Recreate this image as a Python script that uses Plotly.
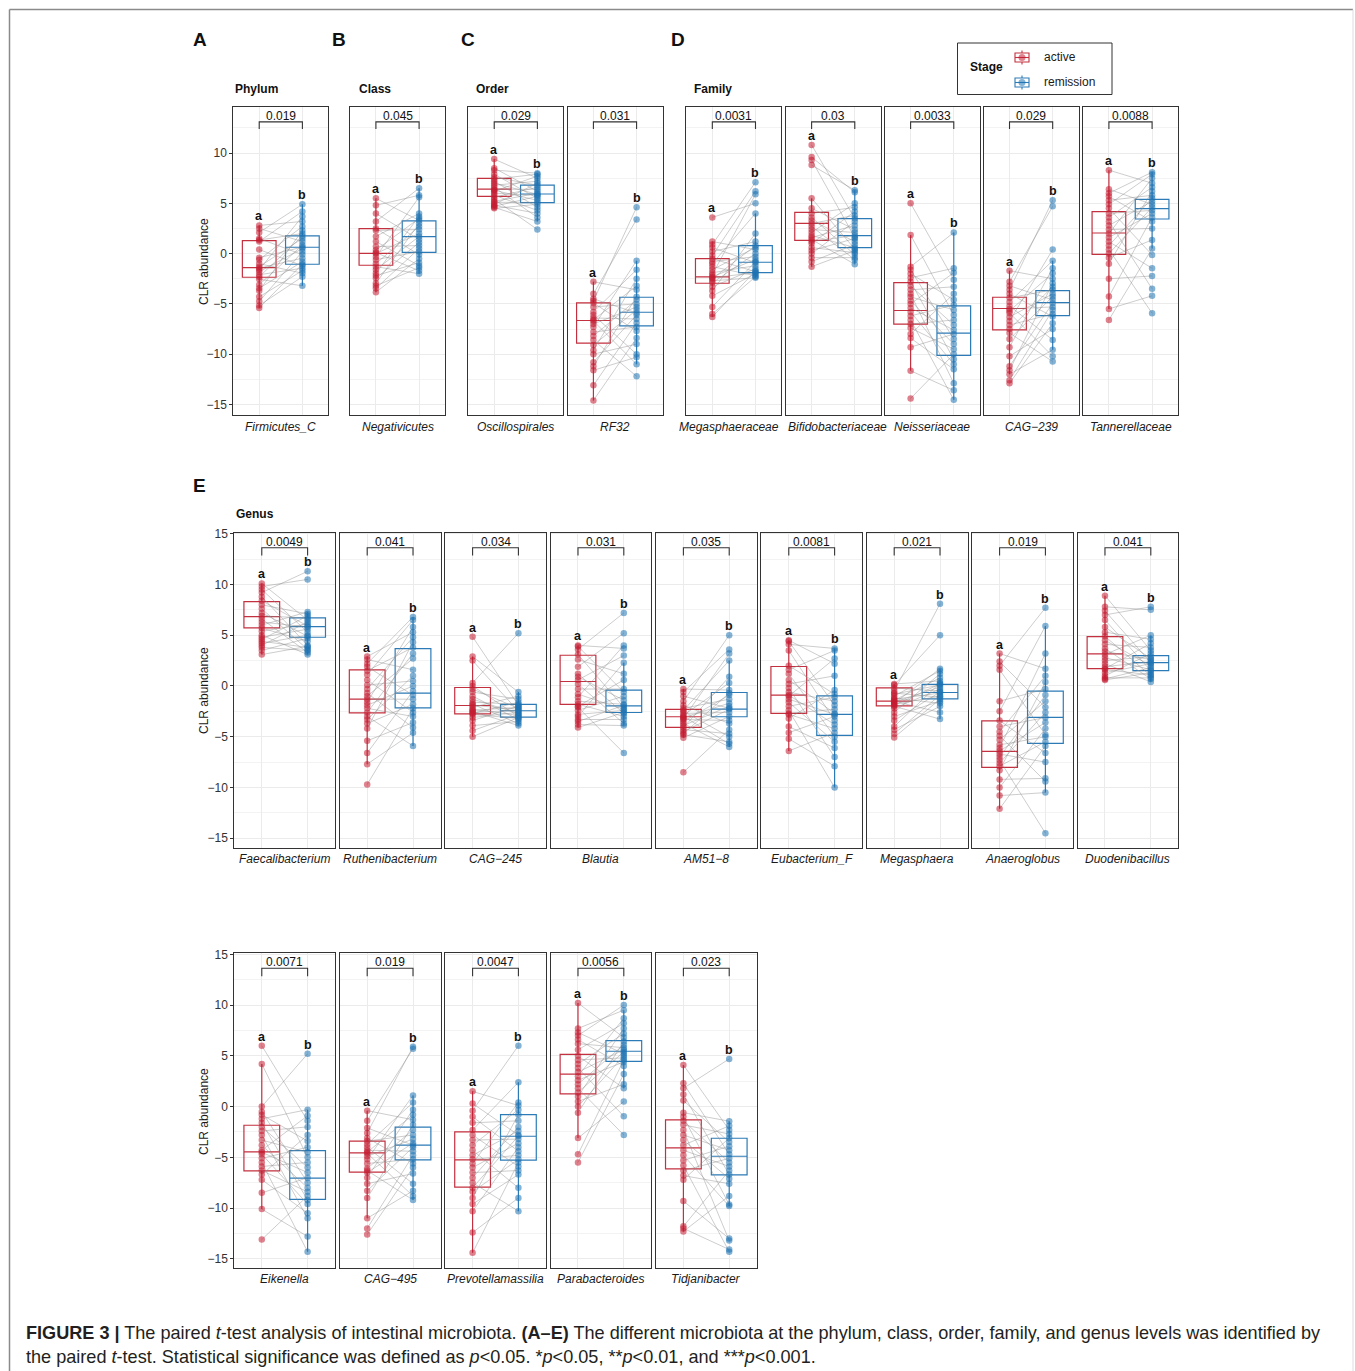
import plotly.graph_objects as go

W, H = 1355, 1371
FONT = "Liberation Sans, Arial, Helvetica, sans-serif"
ACTIVE_LINE = "#C3303F"
REMISSION_LINE = "#2C7BB6"
ACTIVE_PT = "rgba(196,28,50,0.55)"
REMISSION_PT = "rgba(30,115,178,0.55)"

# ---------------- data (CLR abundance) ----------------
taxa = ["Firmicutes_C", "Negativicutes", "Oscillospirales", "RF32",
        "Megasphaeraceae", "Bifidobacteriaceae", "Neisseriaceae", "CAG\u2212239", "Tannerellaceae",
        "Faecalibacterium", "Ruthenibacterium", "CAG\u2212245", "Blautia", "AM51\u22128",
        "Eubacterium_F", "Megasphaera", "Anaeroglobus", "Duodenibacillus",
        "Eikenella", "CAG\u2212495", "Prevotellamassilia", "Parabacteroides", "Tidjanibacter"]

p_values = ["0.019", "0.045", "0.029", "0.031", "0.0031", "0.03", "0.0033", "0.029", "0.0088",
            "0.0049", "0.041", "0.034", "0.031", "0.035", "0.0081", "0.021", "0.019", "0.041",
            "0.0071", "0.019", "0.0047", "0.0056", "0.023"]

firmicutes_c_active = [2.8, 2.5, 2.1, 1.5, 1.35, 1.2, 0.4, -0.4, -0.6, -1.0, -1.3, -1.45, -1.6, -1.8, -2.1, -2.3, -2.55, -3.1, -3.45, -3.7, -4.3, -4.75, -5.15, -5.4]
firmicutes_c_remission = [4.9, 4.2, 3.7, 3.2, 2.7, 2.3, 2.0, 1.75, 1.5, 1.2, 0.85, 0.65, 0.5, 0.2, -0.1, -0.45, -0.8, -1.05, -1.2, -1.45, -1.7, -1.95, -2.3, -3.2]
negativicutes_active = [5.5, 4.8, 4.0, 3.2, 2.5, 2.3, 1.7, 1.2, 0.7, 0.35, 0.1, 0.0, -0.3, -0.6, -1.0, -1.3, -1.6, -1.95, -2.2, -2.45, -2.95, -3.2, -3.45, -3.84]
negativicutes_remission = [6.5, 5.8, 5.6, 4.0, 3.7, 3.5, 3.3, 3.0, 2.7, 2.4, 2.0, 1.7, 1.4, 1.1, 0.8, 0.5, 0.2, -0.1, -0.5, -0.9, -1.2, -1.4, -1.7, -2.0]
oscillospirales_active = [9.4, 8.5, 8.3, 7.9, 7.6, 7.4, 7.2, 7.0, 6.8, 6.6, 6.4, 6.3, 6.2, 6.0, 5.8, 5.6, 5.4, 5.2, 5.1, 4.9, 4.8, 4.7, 4.6, 4.5]
oscillospirales_remission = [8.0, 7.9, 7.7, 7.5, 7.2, 7.0, 6.8, 6.6, 6.4, 6.2, 6.0, 5.9, 5.8, 5.7, 5.5, 5.3, 5.1, 4.9, 4.6, 4.3, 4.0, 3.6, 3.2, 2.4]
rf32_active = [-2.8, -4.0, -4.5, -4.7, -4.9, -5.3, -5.8, -6.1, -6.4, -6.6, -6.7, -7.0, -7.3, -7.8, -8.2, -8.6, -9.1, -9.6, -10.0, -10.8, -11.2, -11.6, -13.1, -14.6]
rf32_remission = [4.6, 3.4, -0.7, -1.6, -2.5, -3.2, -3.6, -4.3, -4.6, -5.0, -5.3, -5.6, -5.9, -6.1, -6.5, -6.9, -7.3, -7.7, -8.4, -9.0, -10.0, -10.3, -11.0, -12.2]
megasphaeraceae_active = [3.6, 1.2, 0.9, 0.6, 0.2, -0.2, -0.5, -0.8, -1.0, -1.3, -1.6, -1.9, -2.1, -2.3, -2.4, -2.5, -2.7, -2.9, -3.3, -3.7, -4.2, -5.3, -6.0, -6.3]
megasphaeraceae_remission = [7.1, 6.2, 5.9, 5.0, 4.0, 2.0, 1.2, 0.8, 0.6, 0.4, 0.0, -0.3, -0.6, -0.8, -0.9, -1.2, -1.5, -1.7, -1.8, -1.9, -2.0, -2.2, -2.3, -2.4]
bifidobacteriaceae_active = [10.8, 9.6, 9.3, 8.8, 5.5, 4.5, 4.0, 3.6, 3.3, 3.0, 2.7, 2.4, 2.1, 1.8, 1.6, 1.4, 1.2, 1.0, 0.6, 0.3, 0.0, -0.4, -0.8, -1.3]
bifidobacteriaceae_remission = [6.3, 6.1, 5.0, 4.6, 4.2, 3.8, 3.5, 3.2, 2.8, 2.4, 2.1, 1.8, 1.6, 1.5, 1.2, 0.9, 0.6, 0.45, 0.3, 0.1, -0.1, -0.4, -0.6, -1.06]
neisseriaceae_active = [5.0, 1.85, -1.3, -1.6, -2.0, -2.4, -2.8, -3.2, -3.6, -4.0, -4.3, -4.7, -5.0, -5.4, -5.8, -6.2, -6.6, -7.0, -7.4, -8.0, -8.4, -9.3, -11.65, -14.4]
neisseriaceae_remission = [2.1, -1.46, -1.9, -2.6, -3.3, -4.0, -4.6, -5.1, -5.6, -6.1, -6.6, -7.1, -7.6, -8.0, -8.5, -9.0, -9.5, -10.0, -10.5, -11.0, -11.5, -12.9, -13.6, -14.54]
cag239_active = [-1.7, -2.8, -3.2, -3.6, -4.0, -4.4, -4.8, -5.2, -5.5, -5.7, -5.9, -6.3, -6.7, -7.1, -7.5, -7.9, -8.5, -9.3, -10.2, -11.2, -11.6, -12.0, -12.6, -12.9]
cag239_remission = [5.3, 4.7, 0.4, -0.7, -1.46, -1.95, -2.5, -2.95, -3.3, -3.6, -4.0, -4.27, -4.6, -4.93, -5.3, -5.6, -6.0, -6.26, -6.92, -7.5, -8.58, -9.57, -10.2, -10.73]
tannerellaceae_active = [8.3, 6.4, 6.0, 5.7, 5.3, 4.9, 4.5, 4.0, 3.6, 3.2, 2.8, 2.4, 2.0, 1.6, 1.2, 0.8, 0.4, 0.0, -0.4, -1.0, -2.5, -4.27, -5.5, -6.59]
tannerellaceae_remission = [8.1, 7.9, 7.5, 7.0, 6.6, 6.2, 5.8, 5.5, 5.2, 4.9, 4.6, 4.3, 4.0, 3.6, 3.2, 2.5, 1.36, 0.5, -0.13, -1.46, -2.22, -3.5, -4.2, -5.93]
faecalibacterium_active = [10.1, 9.8, 9.5, 9.2, 8.8, 8.4, 8.0, 7.6, 7.2, 6.9, 6.6, 6.3, 6.0, 5.7, 5.4, 5.0, 4.8, 4.6, 4.4, 4.2, 4.0, 3.8, 3.5, 3.1]
faecalibacterium_remission = [11.3, 10.5, 7.3, 7.1, 6.9, 6.7, 6.5, 6.3, 6.1, 5.9, 5.8, 5.6, 5.3, 5.0, 4.9, 4.7, 4.4, 4.0, 3.9, 3.8, 3.6, 3.5, 3.3, 3.1]
ruthenibacterium_active = [2.9, 2.6, 2.2, 1.9, 1.5, 1.1, 0.6, 0.1, -0.3, -0.7, -1.0, -1.3, -1.6, -1.9, -2.2, -2.6, -3.0, -3.3, -3.7, -4.2, -5.4, -6.6, -7.7, -9.7]
ruthenibacterium_remission = [6.8, 6.5, 5.8, 5.3, 4.8, 4.3, 3.8, 3.2, 2.7, 1.6, 1.0, 0.5, 0.0, -0.5, -0.9, -1.3, -1.8, -2.2, -2.6, -3.0, -3.6, -4.1, -4.6, -5.9]
cag245_active = [4.85, 2.9, 2.5, 0.3, 0.0, -0.3, -0.6, -1.0, -1.3, -1.6, -1.8, -1.9, -2.1, -2.3, -2.4, -2.5, -2.6, -2.7, -2.8, -3.1, -3.4, -3.9, -4.4, -5.0]
cag245_remission = [5.2, -0.6, -1.0, -1.3, -1.6, -1.8, -1.9, -2.0, -2.1, -2.2, -2.3, -2.4, -2.5, -2.6, -2.7, -2.8, -2.9, -3.0, -3.1, -3.2, -3.3, -3.5, -3.7, -3.9]
blautia_active = [4.0, 3.9, 3.6, 3.1, 2.6, 1.9, 1.2, 0.9, 0.6, 0.2, -0.3, -0.8, -1.1, -1.5, -1.8, -2.0, -2.1, -2.4, -2.8, -3.0, -3.3, -3.5, -3.8, -4.1]
blautia_remission = [7.2, 5.2, 4.0, 3.7, 3.0, 2.3, 1.2, 0.6, -0.3, -0.6, -1.0, -1.4, -1.8, -1.9, -2.1, -2.3, -2.4, -2.6, -2.7, -3.0, -3.3, -3.7, -3.9, -6.6]
am51_8_active = [-0.3, -0.6, -1.0, -1.5, -1.9, -2.2, -2.4, -2.5, -2.7, -2.9, -3.0, -3.1, -3.2, -3.3, -3.5, -3.7, -3.9, -4.1, -4.3, -4.5, -4.7, -4.8, -5.1, -8.5]
am51_8_remission = [5.0, 3.6, 3.2, 2.5, 0.9, 0.3, -0.4, -0.7, -0.9, -1.3, -1.7, -2.0, -2.2, -2.3, -2.6, -3.0, -3.4, -3.7, -4.3, -4.7, -5.0, -5.5, -5.7, -6.0]
eubacterium_f_active = [4.5, 4.4, 4.1, 3.5, 2.0, 1.6, 1.2, 0.6, 0.2, -0.2, -0.6, -0.9, -1.0, -1.3, -1.6, -2.0, -2.4, -2.7, -2.8, -3.2, -4.0, -4.6, -5.2, -6.4]
eubacterium_f_remission = [3.7, 3.5, 2.7, 2.2, 1.0, -0.4, -0.8, -1.1, -1.5, -1.9, -2.3, -2.7, -2.8, -3.0, -3.4, -3.8, -4.2, -4.6, -5.0, -5.5, -6.1, -7.0, -7.9, -10.0]
megasphaera_active = [0.2, 0.1, -0.2, -0.5, -0.7, -0.8, -1.0, -1.2, -1.3, -1.4, -1.5, -1.6, -1.7, -1.8, -1.9, -2.0, -2.2, -2.6, -3.0, -3.4, -4.0, -4.3, -4.7, -5.07]
megasphaera_remission = [8.1, 5.0, 1.7, 1.5, 1.2, 0.8, 0.5, 0.3, 0.2, 0.1, -0.1, -0.3, -0.5, -0.6, -0.7, -0.9, -1.0, -1.1, -1.3, -1.5, -1.7, -2.0, -2.6, -3.26]
anaeroglobus_active = [3.2, 2.4, 2.0, 1.6, -1.5, -2.5, -3.4, -4.0, -4.5, -4.9, -5.3, -5.8, -6.1, -6.4, -6.7, -7.0, -7.3, -7.6, -7.9, -8.3, -9.2, -10.0, -10.8, -12.1]
anaeroglobus_remission = [7.7, 5.9, 3.2, 1.7, 1.0, 0.4, -0.3, -0.9, -1.5, -2.1, -2.6, -3.1, -3.6, -4.2, -4.8, -5.0, -5.5, -5.9, -6.6, -7.5, -9.1, -9.4, -10.5, -14.5]
duodenibacillus_active = [8.9, 7.8, 7.4, 7.0, 6.5, 5.8, 5.3, 4.9, 4.5, 4.1, 3.7, 3.4, 3.1, 2.8, 2.5, 2.2, 1.9, 1.7, 1.6, 1.3, 1.0, 0.8, 0.7, 0.6]
duodenibacillus_remission = [7.8, 7.5, 5.0, 4.6, 4.2, 3.8, 3.5, 3.2, 2.9, 2.7, 2.6, 2.4, 2.3, 2.2, 2.0, 1.8, 1.6, 1.5, 1.3, 1.1, 1.0, 0.8, 0.7, 0.4]
eikenella_active = [6.0, 4.2, 0.0, -0.5, -0.8, -1.2, -1.6, -2.0, -2.4, -2.8, -3.3, -3.8, -4.3, -4.5, -4.7, -5.1, -5.5, -5.9, -6.3, -6.7, -7.2, -8.5, -10.1, -13.1]
eikenella_remission = [5.2, -0.3, -0.9, -1.4, -2.0, -2.8, -3.4, -4.0, -4.5, -5.0, -5.5, -6.0, -6.5, -7.0, -7.5, -8.0, -8.4, -8.8, -9.2, -9.6, -10.5, -11.0, -12.8, -14.3]
cag495_active = [-0.4, -1.4, -2.1, -2.6, -3.1, -3.4, -3.7, -4.0, -4.3, -4.5, -4.6, -4.9, -5.2, -5.6, -6.1, -6.3, -6.5, -7.0, -7.6, -8.3, -9.0, -11.0, -12.0, -12.6]
cag495_remission = [5.9, 5.7, 1.1, 0.4, -0.3, -0.8, -1.3, -1.8, -2.3, -2.8, -3.2, -3.6, -3.8, -4.0, -4.4, -4.8, -5.2, -5.6, -6.0, -6.6, -7.6, -8.3, -8.8, -9.2]
prevotellamassilia_active = [1.5, 0.3, -0.4, -1.0, -1.6, -2.3, -2.8, -3.3, -3.8, -4.3, -4.8, -5.2, -5.6, -6.0, -6.5, -7.0, -7.5, -8.0, -8.4, -9.0, -9.6, -10.3, -12.4, -14.4]
prevotellamassilia_remission = [6.0, 2.4, 0.4, 0.1, -0.3, -0.8, -1.4, -2.0, -2.4, -2.8, -2.9, -3.2, -3.6, -4.0, -4.4, -4.8, -5.2, -5.5, -5.9, -6.3, -6.7, -8.0, -9.0, -10.3]
parabacteroides_active = [10.2, 7.7, 7.3, 7.0, 6.6, 6.2, 5.6, 5.0, 4.6, 4.2, 3.8, 3.4, 3.0, 2.6, 2.2, 1.8, 1.4, 1.0, 0.5, 0.0, -0.6, -3.1, -4.7, -5.5]
parabacteroides_remission = [10.0, 9.5, 8.7, 8.2, 7.7, 7.2, 6.8, 6.4, 6.1, 5.8, 5.6, 5.4, 5.2, 5.0, 4.8, 4.6, 4.4, 4.0, 3.2, 2.2, 1.8, 0.5, -0.95, -2.8]
tidjanibacter_active = [4.1, 2.3, 1.8, 1.2, 0.6, -0.6, -1.0, -1.4, -1.8, -2.3, -2.8, -3.3, -3.8, -4.3, -4.8, -5.3, -5.8, -6.3, -6.8, -7.2, -9.3, -11.8, -12.0, -12.3]
tidjanibacter_remission = [4.7, -1.44, -1.9, -2.3, -2.7, -3.1, -3.5, -3.9, -4.3, -4.7, -5.1, -5.5, -5.9, -6.3, -6.7, -7.1, -7.6, -8.8, -9.65, -9.8, -13.0, -13.2, -14.08, -14.3]

# box statistics (panel order as in `taxa`)
q1_active = [-2.35, -1.16, 5.7, -8.9, -2.95, 1.32, -7.02, -7.58, -0.07, 5.72, -2.64, -2.74, -1.82, -4.08, -2.7, -1.95, -8.02, 1.72, -6.33, -6.46, -7.94, 1.25, -6.14]
median_active = [-1.39, 0.03, 6.42, -6.65, -2.32, 3.01, -5.66, -5.46, 2.05, 6.84, -1.3, -1.92, 0.44, -3.03, -0.9, -1.49, -6.44, 3.16, -4.46, -4.56, -5.25, 3.19, -4.07]
q3_active = [1.29, 2.48, 7.48, -4.9, -0.5, 4.1, -2.88, -4.34, 4.17, 8.31, 1.59, -0.15, 3.03, -2.31, 1.92, -0.18, -3.43, 4.87, -1.84, -3.41, -2.49, 5.15, -1.31]
q1_remission = [-1.06, 0.13, 5.07, -7.19, -1.89, 0.6, -10.13, -6.16, 3.44, 4.8, -2.15, -3.07, -2.61, -3.03, -4.87, -1.26, -5.66, 1.52, -9.15, -5.25, -5.28, 4.46, -6.73]
median_remission = [0.63, 1.69, 5.93, -5.83, -0.86, 1.79, -7.91, -4.87, 4.47, 5.85, -0.7, -2.44, -1.95, -2.28, -2.8, -0.64, -3.1, 2.31, -7.05, -3.8, -2.92, 5.45, -4.89]
q3_remission = [1.76, 3.25, 6.82, -4.34, 0.8, 3.48, -5.2, -3.68, 5.4, 6.7, 3.69, -1.82, -0.41, -0.64, -0.97, 0.15, -0.51, 3.0, -4.33, -2.03, -0.79, 6.5, -3.12]

# which remission sample is paired with each active sample (sample index mapping)
pair_order_a = [3, 9, 0, 14, 6, 1, 18, 11, 4, 21, 8, 15, 2, 12, 19, 7, 23, 10, 16, 5, 20, 13, 22, 17]
pair_order_b = [6, 1, 12, 0, 17, 9, 3, 20, 14, 5, 22, 10, 2, 16, 8, 23, 11, 4, 19, 13, 7, 21, 15, 18]

panel_data = [
    (firmicutes_c_active, firmicutes_c_remission),
    (negativicutes_active, negativicutes_remission),
    (oscillospirales_active, oscillospirales_remission),
    (rf32_active, rf32_remission),
    (megasphaeraceae_active, megasphaeraceae_remission),
    (bifidobacteriaceae_active, bifidobacteriaceae_remission),
    (neisseriaceae_active, neisseriaceae_remission),
    (cag239_active, cag239_remission),
    (tannerellaceae_active, tannerellaceae_remission),
    (faecalibacterium_active, faecalibacterium_remission),
    (ruthenibacterium_active, ruthenibacterium_remission),
    (cag245_active, cag245_remission),
    (blautia_active, blautia_remission),
    (am51_8_active, am51_8_remission),
    (eubacterium_f_active, eubacterium_f_remission),
    (megasphaera_active, megasphaera_remission),
    (anaeroglobus_active, anaeroglobus_remission),
    (duodenibacillus_active, duodenibacillus_remission),
    (eikenella_active, eikenella_remission),
    (cag495_active, cag495_remission),
    (prevotellamassilia_active, prevotellamassilia_remission),
    (parabacteroides_active, parabacteroides_remission),
    (tidjanibacter_active, tidjanibacter_remission),
]

# ---------------- layout geometry (pixels) ----------------
row1_x0 = [233.3, 350.0, 468.3, 567.5, 686.4, 785.7, 884.7, 983.6, 1083.0]
geoms = [(0, x, 95.0) for x in row1_x0]
geoms += [(1, 234.3 + 105.4 * i, 100.8) for i in range(9)]
geoms += [(2, 234.3 + 105.4 * i, 100.8) for i in range(5)]
row_py = [(107.3, 414.5), (532.7, 847.7), (953.3, 1268.3)]
row_range = [(-16.0, 14.55), (-15.93, 15.1), (-15.93, 15.1)]
row_ticks = [[-15, -10, -5, 0, 5, 10], [-15, -10, -5, 0, 5, 10, 15], [-15, -10, -5, 0, 5, 10, 15]]
row_bracket = [(12.4, 13.1), (12.85, 13.62), (12.85, 13.62)]
row_label_y = [427.5, 858.5, 1279.0]
label_nudge = {4: -5.0, 5: 4.0}   # strip labels pushed apart where they would touch
minor_vals = [-12.5, -7.5, -2.5, 2.5, 7.5, 12.5]


def px(x):
    return x / W


def py(y):
    return 1 - y / H


def fmt(t):
    return ("\u2212" + str(abs(t))) if t < 0 else str(t)


def whiskers(vals, q1, q3):
    iqr = q3 - q1
    lo_f, hi_f = q1 - 1.5 * iqr, q3 + 1.5 * iqr
    inside = [v for v in vals if lo_f <= v <= hi_f]
    lo = min(inside) if inside else q1
    hi = max(inside) if inside else q3
    return min(lo, q1), max(hi, q3)


fig = go.Figure()
layout_axes = {}
annotations = []
shapes = []
box_traces, line_traces, point_traces = [], [], []

for k, ((act, rem), (row, x0, w)) in enumerate(zip(panel_data, geoms)):
    n = k + 1
    s = "" if n == 1 else str(n)
    xref, yref = "x" + s, "y" + s
    y0p, y1p = row_py[row]
    first = k in (0, 9, 18)
    layout_axes["xaxis" + s] = dict(
        domain=[px(x0), px(x0 + w)], range=[0.4, 2.6], anchor=yref, type="linear",
        tickvals=[1, 2], showticklabels=False, ticks="", showgrid=True,
        gridcolor="#EBEBEB", gridwidth=1, zeroline=False, showline=True, mirror=True,
        linecolor="#333333", linewidth=1.1, fixedrange=True, automargin=False)
    ticks = row_ticks[row]
    layout_axes["yaxis" + s] = dict(
        domain=[py(y1p), py(y0p)], range=list(row_range[row]), anchor=xref, type="linear",
        tickvals=ticks, ticktext=[fmt(t) for t in ticks], showticklabels=first,
        ticks="outside" if first else "", ticklen=3, tickwidth=1, tickcolor="#333333",
        tickfont=dict(size=12, color="#333333", family=FONT),
        showgrid=True, gridcolor="#EBEBEB", gridwidth=1,
        minor=dict(tickvals=minor_vals, showgrid=True, gridcolor="#F3F3F3", gridwidth=0.6, ticks=""),
        zeroline=False, showline=True, mirror=True, linecolor="#333333", linewidth=1.1,
        fixedrange=True, automargin=False)

    groups = [(1, act, q1_active[k], median_active[k], q3_active[k], ACTIVE_LINE, ACTIVE_PT, "a"),
              (2, rem, q1_remission[k], median_remission[k], q3_remission[k], REMISSION_LINE, REMISSION_PT, "b")]
    for xpos, vals, q1, med, q3, lcol, pcol, letter in groups:
        lo, hi = whiskers(vals, q1, q3)
        box_traces.append(go.Box(
            x=[xpos], q1=[q1], median=[med], q3=[q3], lowerfence=[lo], upperfence=[hi],
            width=0.78, whiskerwidth=0, fillcolor="rgba(255,255,255,0)",
            line=dict(color=lcol, width=1.2), boxpoints=False,
            xaxis=xref, yaxis=yref, showlegend=False, hoverinfo="skip"))
        point_traces.append(go.Scatter(
            x=[xpos] * len(vals), y=vals, mode="markers",
            marker=dict(size=6.5, color=pcol, line=dict(width=0)),
            xaxis=xref, yaxis=yref, showlegend=False, hoverinfo="skip"))
        annotations.append(dict(
            x=xpos, y=max(vals), xref=xref, yref=yref, text="<b>%s</b>" % letter,
            showarrow=False, yanchor="middle", xanchor="center", yshift=9,
            font=dict(size=12.5, color="#111111", family=FONT)))

    order = pair_order_a if k % 2 == 0 else pair_order_b
    lx, ly = [], []
    for i in range(min(len(act), len(rem))):
        j = order[i] if (i < len(order) and order[i] < len(rem)) else i
        lx += [1, 2, None]
        ly += [act[i], rem[j], None]
    line_traces.append(go.Scatter(
        x=lx, y=ly, mode="lines", line=dict(color="rgba(140,140,140,0.55)", width=0.8),
        xaxis=xref, yaxis=yref, showlegend=False, hoverinfo="skip"))

    b0, b1 = row_bracket[row]
    shapes.append(dict(type="path", xref=xref, yref=yref,
                       path="M 1,%s L 1,%s L 2,%s L 2,%s" % (b0, b1, b1, b0),
                       line=dict(color="#333333", width=1.1)))
    annotations.append(dict(x=1.5, y=b1, xref=xref, yref=yref, text=p_values[k],
                            showarrow=False, yanchor="bottom", xanchor="center", yshift=-3,
                            font=dict(size=12, color="#111111", family=FONT)))
    annotations.append(dict(x=px(x0 + w / 2 + label_nudge.get(k, 0.0)), y=py(row_label_y[row]),
                            xref="paper", yref="paper",
                            text="<i>%s</i>" % taxa[k], showarrow=False,
                            xanchor="center", yanchor="middle",
                            font=dict(size=12, color="#1A1A1A", family=FONT)))

for t in box_traces + line_traces + point_traces:
    fig.add_trace(t)


def paper_text(x, y, text, size, xanchor="left", bold=False, angle=0, color="#111111", family=FONT):
    annotations.append(dict(x=px(x), y=py(y), xref="paper", yref="paper",
                            text=("<b>%s</b>" % text) if bold else text, showarrow=False,
                            xanchor=xanchor, yanchor="middle", textangle=angle,
                            font=dict(size=size, color=color, family=family)))


# panel letters and level titles
for letter, x, y in [("A", 200, 39), ("B", 339, 39), ("C", 468, 39), ("D", 678, 39), ("E", 199, 485)]:
    paper_text(x, y, letter, 19, xanchor="center", bold=True)
for title, x, y in [("Phylum", 233.3, 89.3), ("Class", 357.3, 89.3), ("Order", 474.0, 89.3),
                    ("Family", 692.0, 89.3), ("Genus", 233.7, 514.0)]:
    paper_text(x, y, title, 12, bold=True)
# y titles
for yc in [261.0, 690.0, 1111.0]:
    paper_text(204, yc, "CLR abundance", 12, xanchor="center", angle=-90, color="#1A1A1A")

# legend
shapes.append(dict(type="rect", xref="paper", yref="paper", x0=px(957.5), x1=px(1112), y0=py(94.5), y1=py(43),
                   line=dict(color="#333333", width=1)))
paper_text(968, 67, "Stage", 12, bold=True)
for yc, lcol, pcol, label in [(57.5, ACTIVE_LINE, ACTIVE_PT, "active"), (82.5, REMISSION_LINE, REMISSION_PT, "remission")]:
    shapes.append(dict(type="line", xref="paper", yref="paper", x0=px(1022), x1=px(1022),
                       y0=py(yc - 7), y1=py(yc + 7), line=dict(color=lcol, width=1.1)))
    shapes.append(dict(type="rect", xref="paper", yref="paper", x0=px(1015), x1=px(1029),
                       y0=py(yc + 4.5), y1=py(yc - 4.5), line=dict(color=lcol, width=1.1),
                       fillcolor="white"))
    shapes.append(dict(type="line", xref="paper", yref="paper", x0=px(1015), x1=px(1029),
                       y0=py(yc), y1=py(yc), line=dict(color=lcol, width=1.1)))
    shapes.append(dict(type="circle", xref="paper", yref="paper", x0=px(1018.5), x1=px(1025.5),
                       y0=py(yc + 3.5), y1=py(yc - 3.5), line=dict(width=0), fillcolor=pcol))
    paper_text(1042, yc, label, 12, color="#1A1A1A")

# frame around the figure
shapes.append(dict(type="line", xref="paper", yref="paper", x0=px(9.5), x1=px(9.5), y0=0, y1=py(9.5),
                   line=dict(color="#8A8A8A", width=1.5)))
shapes.append(dict(type="line", xref="paper", yref="paper", x0=px(9.5), x1=px(1353), y0=py(9.5), y1=py(9.5),
                   line=dict(color="#8A8A8A", width=1.5)))
shapes.append(dict(type="line", xref="paper", yref="paper", x0=px(1353), x1=px(1353), y0=0, y1=py(9.5),
                   line=dict(color="#DDDDDD", width=1)))

# caption
CAP_FONT = "Liberation Sans, Arial, sans-serif"
paper_text(24, 1333,
           "<b>FIGURE 3</b> <b>|</b> The paired <i>t</i>-test analysis of intestinal microbiota. <b>(A\u2013E)</b> "
           "The different microbiota at the phylum, class, order, family, and genus levels was identified by",
           18.1, color="#231F20", family=CAP_FONT)
paper_text(24, 1357,
           "the paired <i>t</i>-test. Statistical significance was defined as <i>p</i>&lt;0.05. "
           "*<i>p</i>&lt;0.05, **<i>p</i>&lt;0.01, and ***<i>p</i>&lt;0.001.",
           18.1, color="#231F20", family=CAP_FONT)

fig.update_layout(
    width=W, height=H, autosize=False,
    margin=dict(l=0, r=0, t=0, b=0, pad=0, autoexpand=False),
    paper_bgcolor="white", plot_bgcolor="white",
    font=dict(family=FONT, color="#111111"),
    showlegend=False,
    annotations=annotations, shapes=shapes,
    **layout_axes)

fig.write_html(
    "out.html",
    config={"displayModeBar": False},
    post_script=("document.body.style.margin='0px';document.body.style.padding='0px';"
                 "document.body.style.overflow='hidden';"
                 "var gd=document.getElementById('{plot_id}');"
                 "gd.style.position='absolute';gd.style.left='0px';gd.style.top='0px';"))
